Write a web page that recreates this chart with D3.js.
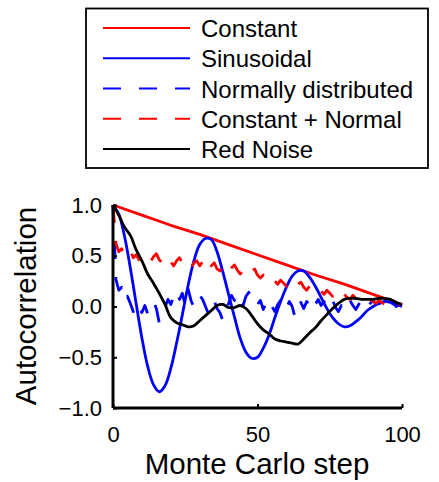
<!DOCTYPE html>
<html>
<head>
<meta charset="utf-8">
<script src="https://cdn.jsdelivr.net/npm/d3@7"></script>
<style>
  html, body { margin: 0; padding: 0; background: #fff; }
  svg { display: block; font-family: "Liberation Sans", Arial, sans-serif; }
</style>
</head>
<body>
<svg width="439" height="482"></svg>
<script>
// lags: smooth curves sampled every 2 steps, noisy ones every step
var lagsCoarse = d3.range(0, 101, 2);
var lagsFine = d3.range(0, 101, 1);
var lagsConstant = [0, 10, 20, 30, 40, 50, 60, 70, 80, 90, 100];

var constantVals = [1.00, 0.90, 0.80, 0.71, 0.61, 0.51, 0.41, 0.31, 0.22, 0.12, 0.02];

var sinusoidalVals = [
  1.00, 0.91, 0.69, 0.38, 0.03, -0.31, -0.59, -0.77, -0.84, -0.78,
  -0.61, -0.36, -0.08, 0.21, 0.45, 0.61, 0.67, 0.66, 0.54, 0.34,
  0.12, -0.10, -0.31, -0.45, -0.51, -0.50, -0.41, -0.28, -0.11, 0.05,
  0.19, 0.30, 0.35, 0.35, 0.29, 0.20, 0.09, -0.02, -0.11, -0.17,
  -0.20, -0.19, -0.15, -0.10, -0.04, 0.00, 0.03, 0.05, 0.04, 0.02,
  0.00
];

var normalVals = [
  1.00, 0.27, 0.16, 0.19, 0.06, 0.10, 0.03, -0.05, -0.12, -0.03,
  -0.06, 0.01, -0.07, -0.04, 0.05, -0.02, -0.16, -0.07, -0.01, 0.07,
  0.02, 0.10, 0.16, 0.07, 0.13, 0.01, 0.17, 0.06, -0.01, 0.04,
  0.11, 0.07, 0.00, -0.07, 0.03, 0.06, -0.02, -0.06, -0.14, -0.05,
  0.03, 0.11, 0.06, 0.13, 0.04, 0.01, 0.10, 0.14, 0.07, 0.09,
  0.02, 0.06, -0.03, 0.04, 0.08, 0.00, -0.05, 0.02, 0.06, -0.04,
  -0.02, 0.05, 0.00, -0.11, -0.04, 0.04, -0.02, 0.05, 0.01, -0.05,
  0.02, 0.07, 0.01, 0.05, -0.02, 0.04, 0.06, -0.01, -0.05, 0.01,
  -0.04, 0.03, 0.06, 0.01, -0.03, 0.02, 0.06, 0.02, -0.02, 0.03,
  0.06, 0.02, 0.05, 0.00, 0.04, 0.01, -0.01, 0.03, 0.00, 0.02,
  0.01
];

var constNormalVals = [
  1.00, 0.62, 0.54, 0.57, 0.49, 0.53, 0.55, 0.48, 0.51, 0.46,
  0.50, 0.53, 0.48, 0.44, 0.49, 0.52, 0.46, 0.43, 0.47, 0.50,
  0.44, 0.40, 0.45, 0.48, 0.43, 0.46, 0.41, 0.38, 0.43, 0.45,
  0.40, 0.44, 0.37, 0.34, 0.40, 0.43, 0.37, 0.35, 0.40, 0.36,
  0.33, 0.38, 0.41, 0.36, 0.32, 0.35, 0.31, 0.29, 0.34, 0.37,
  0.31, 0.28, 0.31, 0.27, 0.24, 0.28, 0.25, 0.22, 0.26, 0.23,
  0.20, 0.24, 0.21, 0.18, 0.22, 0.24, 0.19, 0.16, 0.20, 0.17,
  0.14, 0.18, 0.15, 0.12, 0.16, 0.13, 0.10, 0.14, 0.11, 0.08,
  0.12, 0.09, 0.07, 0.11, 0.08, 0.06, 0.09, 0.07, 0.04, 0.07,
  0.05, 0.03, 0.06, 0.04, 0.02, 0.05, 0.03, 0.01, 0.04, 0.02,
  0.03
];

var redNoiseVals = [
  1.00, 0.90, 0.78, 0.70, 0.56, 0.45, 0.32, 0.23, 0.13, 0.02,
  -0.11, -0.16, -0.18, -0.20, -0.19, -0.14, -0.09, -0.04, 0.01, 0.02,
  -0.01, -0.01, 0.01, -0.02, -0.09, -0.17, -0.23, -0.27, -0.32, -0.34,
  -0.35, -0.36, -0.37, -0.32, -0.26, -0.21, -0.14, -0.08, -0.02, 0.03,
  0.07, 0.08, 0.08, 0.07, 0.07, 0.07, 0.08, 0.08, 0.07, 0.04,
  0.02
];

var xTicks = [0, 50, 100];
var yTicks = [-1, -0.5, 0, 0.5, 1];

var seriesNames = ["Constant", "Sinusoidal", "Normally distributed", "Constant + Normal", "Red Noise"];
var seriesColors = ["#ff0000", "#0000ff", "#0000ff", "#ff0000", "#000000"];
var seriesDashed = [false, false, true, true, false];

var series = [
  { lags: lagsConstant, vals: constantVals, curve: d3.curveLinear },
  { lags: lagsCoarse, vals: sinusoidalVals, curve: d3.curveCatmullRom },
  { lags: lagsFine, vals: normalVals, curve: d3.curveLinear },
  { lags: lagsFine, vals: constNormalVals, curve: d3.curveLinear },
  { lags: lagsCoarse, vals: redNoiseVals, curve: d3.curveCatmullRom }
];

var svg = d3.select("svg");

var x = d3.scaleLinear().domain([0, 100]).range([113, 402]);
var y = d3.scaleLinear().domain([-1, 1]).range([408, 205]);

// curves
var plot = svg.append("g");
series.forEach(function (s, i) {
  var pts = s.lags.map(function (l, k) { return [l, s.vals[k]]; });
  var line = d3.line()
    .x(function (d) { return x(d[0]); })
    .y(function (d) { return y(d[1]); })
    .curve(s.curve);
  plot.append("path")
    .datum(pts)
    .attr("d", line)
    .attr("fill", "none")
    .attr("stroke", seriesColors[i])
    .attr("stroke-width", 2.8)
    .attr("stroke-linejoin", "round")
    .attr("stroke-dasharray", seriesDashed[i] ? "18,18" : null);
});

// axes, ticks pointing inward, no box
var xAxis = svg.append("g")
  .attr("transform", "translate(0,408)")
  .call(d3.axisBottom(x).tickValues(xTicks).tickSizeInner(-4).tickSizeOuter(0).tickPadding(18)
    .tickFormat(d3.format("d")));
var yAxis = svg.append("g")
  .attr("transform", "translate(113,0)")
  .call(d3.axisLeft(y).tickValues(yTicks).tickSizeInner(-4).tickSizeOuter(0).tickPadding(11)
    .tickFormat(d3.format(".1f")));

[xAxis, yAxis].forEach(function (a) {
  a.select(".domain").attr("stroke", "#000").attr("stroke-width", 3);
  a.selectAll(".tick line").attr("stroke", "#000").attr("stroke-width", 2);
  a.selectAll(".tick text")
    .attr("fill", "#000")
    .style("font-size", "22px")
    .style("font-family", "'Liberation Sans', Arial, sans-serif");
});
xAxis.select(".domain").attr("d", "M113,0H402");
yAxis.select(".domain").attr("d", "M0,205V408");

// axis titles
svg.append("text")
  .attr("x", 257)
  .attr("y", 474)
  .attr("text-anchor", "middle")
  .style("font-size", "29.5px")
  .text("Monte Carlo step");

svg.append("text")
  .attr("transform", "translate(36,306) rotate(-90)")
  .attr("text-anchor", "middle")
  .style("font-size", "29.5px")
  .text("Autocorrelation");

// legend
var legend = svg.append("g");
legend.append("rect")
  .attr("x", 86).attr("y", 8.5)
  .attr("width", 342).attr("height", 159.5)
  .attr("fill", "#fff")
  .attr("stroke", "#000")
  .attr("stroke-width", 1.8);

var rowY = d3.scaleLinear().domain([0, 4]).range([28, 149]);
seriesNames.forEach(function (name, i) {
  legend.append("line")
    .attr("x1", 103).attr("x2", 190)
    .attr("y1", rowY(i)).attr("y2", rowY(i))
    .attr("stroke", seriesColors[i])
    .attr("stroke-width", 2.2)
    .attr("stroke-dasharray", seriesDashed[i] ? "18,18" : null);
  legend.append("text")
    .attr("x", 201)
    .attr("y", rowY(i) + 9)
    .style("font-size", "24px")
    .text(name);
});
</script>
</body>
</html>
